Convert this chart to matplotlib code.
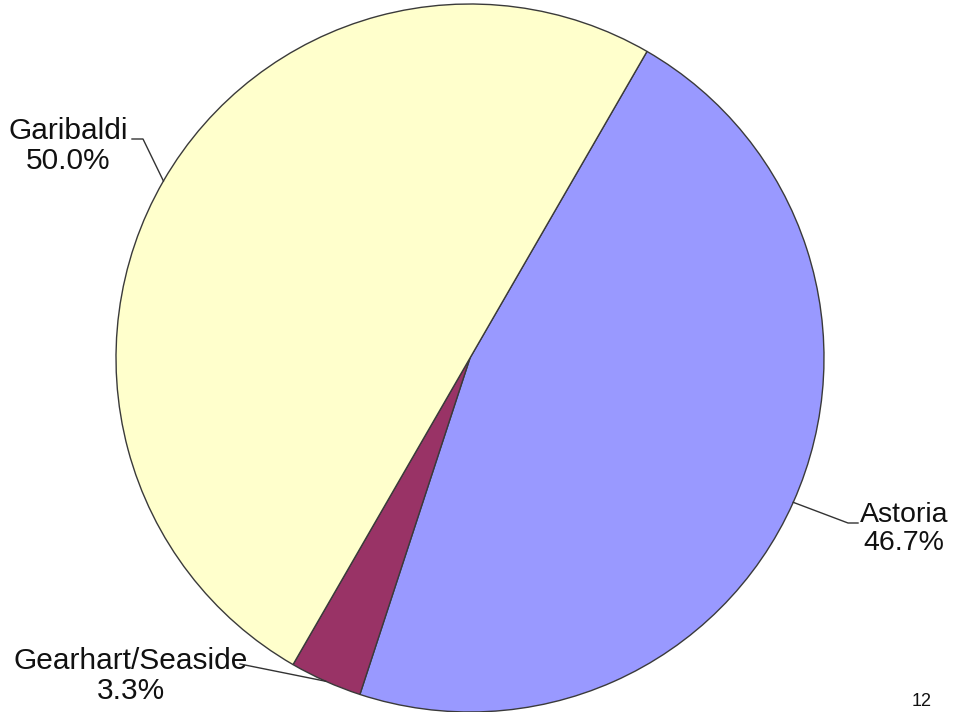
import numpy as np
import matplotlib
matplotlib.use('Agg')
import matplotlib.pyplot as plt

categories = ['Astoria', 'Gearhart/Seaside', 'Garibaldi']
values = [46.7, 3.3, 50.0]
pct_labels = ['46.7%', '3.3%', '50.0%']
colors = ['#9999FF', '#993366', '#FFFFCC']
page_number = '12'

plt.rcParams['font.family'] = ['Liberation Sans', 'DejaVu Sans']

fig = plt.figure(figsize=(9.6, 7.12), dpi=100)
ax = fig.add_axes([0, 0, 1, 1])
R = 354.0
CX, CY = 470.0, 358.0


def px(x, y):
    return ((x - CX) / R, (CY - y) / R)


wedges, _ = ax.pie(values, colors=colors, startangle=60, counterclock=False,
                   radius=1, center=(0, 0),
                   wedgeprops=dict(edgecolor='#3a3a3a', linewidth=1.0))
ax.set_xlim(-CX / R, (960 - CX) / R)
ax.set_ylim(-(712 - CY) / R, CY / R)
ax.set_aspect('auto')
ax.axis('off')

# label layout (pixel positions): elbow, end of leader, text centre, font size
layout = {
    'Astoria': [(848, 523), (858, 523), (904, 529), 20.5],
    'Gearhart/Seaside': [(240, 664), (240, 664), (131, 676), 21.5],
    'Garibaldi': [(143, 139), (132, 139), (68, 146), 21.5],
}

for w, cat, pct in zip(wedges, categories, pct_labels):
    mid = np.deg2rad((w.theta1 + w.theta2) / 2)
    sx, sy = np.cos(mid), np.sin(mid)
    elbow, end, tc, fs = layout[cat]
    ex, ey = px(*elbow)
    nx, ny = px(*end)
    ax.plot([sx, ex, nx], [sy, ey, ny], color='#333333', lw=1.0, zorder=5)
    tx, ty = px(*tc)
    ax.text(tx, ty, f'{cat}\n{pct}', ha='center', va='center', fontsize=fs,
            color='#111111', linespacing=1.12)

fx, fy = px(922, 710)
ax.text(fx, fy, page_number, ha='center', va='bottom', fontsize=13,
        color='#111111')

fig.savefig('out.png', dpi=100)
